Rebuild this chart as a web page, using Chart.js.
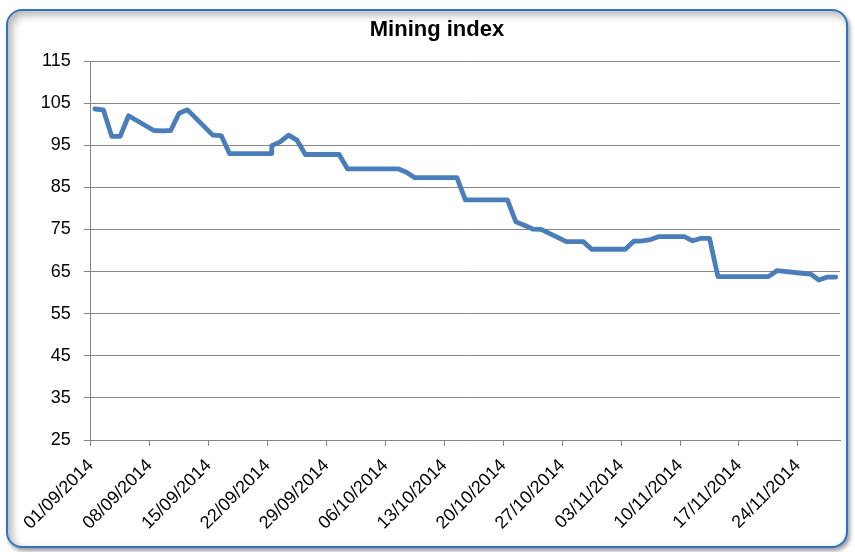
<!DOCTYPE html>
<html>
<head>
<meta charset="utf-8">
<script src="https://cdn.jsdelivr.net/npm/chart.js@4.4.0/dist/chart.umd.min.js"></script>
<style>
  html, body { margin: 0; padding: 0; background: #ffffff; }
  #wrap { position: relative; width: 855px; height: 552px; overflow: hidden; background: #fff; }
  #frame {
    position: absolute; left: 6px; top: 9px; width: 838px; height: 535px;
    border: 2px solid #2f74c0; border-radius: 16px;
    box-shadow: inset 4px 4px 8px rgba(0,0,0,0.30), 2px 3px 4px rgba(0,0,0,0.40);
    background: #fff;
  }
  #c { position: absolute; left: 0; top: 0; }
</style>
</head>
<body>
<div id="wrap">
  <div id="frame"></div>
  <canvas id="c" width="855" height="552"></canvas>
</div>
<script>
// ---- data ----
const dates = [
  '01/09/2014','02/09/2014','03/09/2014','04/09/2014','05/09/2014',
  '08/09/2014','09/09/2014','10/09/2014','11/09/2014','12/09/2014',
  '15/09/2014','16/09/2014','17/09/2014','18/09/2014','19/09/2014',
  '22/09/2014','22/09/2014','23/09/2014','24/09/2014','25/09/2014','26/09/2014',
  '29/09/2014','30/09/2014','01/10/2014','02/10/2014','03/10/2014',
  '06/10/2014','07/10/2014','08/10/2014','09/10/2014','10/10/2014',
  '13/10/2014','14/10/2014','15/10/2014','16/10/2014','17/10/2014',
  '20/10/2014','21/10/2014','22/10/2014','23/10/2014','24/10/2014',
  '27/10/2014','28/10/2014','29/10/2014','30/10/2014','31/10/2014',
  '03/11/2014','04/11/2014','05/11/2014','06/11/2014','07/11/2014',
  '10/11/2014','11/11/2014','12/11/2014','13/11/2014','14/11/2014',
  '17/11/2014','18/11/2014','19/11/2014','20/11/2014','21/11/2014',
  '24/11/2014','25/11/2014','26/11/2014','27/11/2014','28/11/2014'
];
const miningIndex = [
  103.6, 103.4, 97.1, 97.1, 102.0,
  98.5, 98.4, 98.5, 102.6, 103.4,
  97.4, 97.3, 93.0, 93.0, 93.0,
  93.0, 94.9, 95.8, 97.4, 96.2, 92.8,
  92.8, 92.8, 89.4, 89.4, 89.4,
  89.4, 89.4, 88.6, 87.3, 87.3,
  87.3, 87.3, 82.0, 82.0, 82.0,
  82.0, 76.8, 76.0, 75.1, 75.0,
  72.1, 72.1, 72.1, 70.3, 70.3,
  70.3, 72.2, 72.3, 72.6, 73.3,
  73.3, 72.3, 72.9, 72.9, 63.8,
  63.8, 63.8, 63.8, 63.8, 65.2,
  64.6, 64.4, 63.0, 63.7, 63.7
];
const xTickLabels = [
  '01/09/2014','08/09/2014','15/09/2014','22/09/2014','29/09/2014',
  '06/10/2014','13/10/2014','20/10/2014','27/10/2014','03/11/2014',
  '10/11/2014','17/11/2014','24/11/2014'
];
const yTicks = [25, 35, 45, 55, 65, 75, 85, 95, 105, 115];
const chartTitle = 'Mining index';

// ---- build points: day offset from first date, plotted mid-day ----
function dayIndex(s) {
  const [d, m, y] = s.split('/').map(Number);
  const base = Date.UTC(2014, 8, 1);
  return Math.round((Date.UTC(y, m - 1, d) - base) / 86400000);
}
const points = dates.map((s, i) => ({ x: dayIndex(s) + 0.5, y: miningIndex[i] }));
const lastDay = dayIndex(dates[dates.length - 1]) + 1;

const FONT = '"Liberation Sans", Arial, sans-serif';
const GRID = '#868686';

new Chart(document.getElementById('c'), {
  type: 'line',
  data: {
    datasets: [{
      label: chartTitle,
      data: points,
      borderColor: '#4a7ebb',
      borderWidth: 4.8,
      borderCapStyle: 'round',
      borderJoinStyle: 'round',
      pointRadius: 0,
      tension: 0,
      fill: false
    }]
  },
  options: {
    responsive: false,
    animation: false,
    layout: { padding: { left: 34, right: 15, top: 0, bottom: 0 } },
    plugins: {
      legend: { display: false },
      tooltip: { enabled: false },
      title: {
        display: true,
        text: chartTitle,
        color: '#000',
        font: { family: FONT, size: 22, weight: 'bold' },
        padding: { top: 17, bottom: 17.6 }
      }
    },
    scales: {
      x: {
        type: 'linear',
        min: 0,
        max: lastDay,
        afterBuildTicks: (s) => { s.ticks = xTickLabels.map((_, i) => ({ value: i * 7 })); },
        ticks: {
          autoSkip: false,
          maxRotation: 45,
          minRotation: 45,
          color: '#000',
          font: { family: FONT, size: 18 },
          padding: 9,
          callback: (v) => xTickLabels[Math.round(v / 7)]
        },
        grid: { drawOnChartArea: false, drawTicks: true, tickLength: 6, color: GRID, lineWidth: 1 },
        border: { display: true, color: GRID, width: 1 },
        afterFit: (s) => { s.height = 112; }
      },
      y: {
        min: yTicks[0],
        max: yTicks[yTicks.length - 1],
        afterBuildTicks: (s) => { s.ticks = yTicks.map(v => ({ value: v })); },
        ticks: {
          color: '#000',
          font: { family: FONT, size: 18 },
          padding: 13
        },
        grid: { color: GRID, lineWidth: 1, drawTicks: true, tickLength: 7 },
        border: { display: true, color: GRID, width: 1 },
        afterFit: (s) => { s.width = 56.7; }
      }
    }
  }
});
</script>
</body>
</html>
